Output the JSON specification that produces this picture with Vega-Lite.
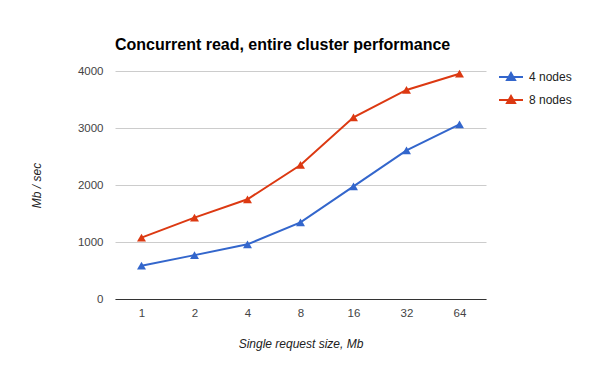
{
  "$schema": "https://vega.github.io/schema/vega-lite/v6.json",
  "width": 371,
  "height": 228,
  "autosize": "none",
  "padding": {"left": 115, "top": 71, "right": 114, "bottom": 72},
  "background": "white",
  "title": {
    "text": "Concurrent read, entire cluster performance",
    "anchor": "start",
    "frame": "group",
    "font": "Liberation Sans",
    "fontSize": 16,
    "fontWeight": "bold",
    "color": "#000000",
    "baseline": "alphabetic",
    "offset": -1
  },
  "data": {
    "values": [
      {"size": "1", "series": "4 nodes", "value": 584},
      {"size": "2", "series": "4 nodes", "value": 770},
      {"size": "4", "series": "4 nodes", "value": 959},
      {"size": "8", "series": "4 nodes", "value": 1345},
      {"size": "16", "series": "4 nodes", "value": 1977},
      {"size": "32", "series": "4 nodes", "value": 2608},
      {"size": "64", "series": "4 nodes", "value": 3064},
      {"size": "1", "series": "8 nodes", "value": 1076},
      {"size": "2", "series": "8 nodes", "value": 1427},
      {"size": "4", "series": "8 nodes", "value": 1749},
      {"size": "8", "series": "8 nodes", "value": 2351},
      {"size": "16", "series": "8 nodes", "value": 3187},
      {"size": "32", "series": "8 nodes", "value": 3667},
      {"size": "64", "series": "8 nodes", "value": 3953}
    ]
  },
  "encoding": {
    "x": {
      "field": "size",
      "type": "ordinal",
      "sort": ["1", "2", "4", "8", "16", "32", "64"],
      "scale": {"paddingInner": 0, "paddingOuter": 0.5},
      "axis": {
        "title": "Single request size, Mb",
        "titleFont": "Liberation Sans",
        "titleFontSize": 12,
        "titleFontStyle": "italic",
        "titleFontWeight": "normal",
        "titleColor": "#222222",
        "titlePadding": 20,
        "labelFont": "Liberation Sans",
        "labelFontSize": 11.5,
        "labelColor": "#444444",
        "labelAngle": 0,
        "labelPadding": 8,
        "ticks": false,
        "domain": true,
        "domainColor": "#333333",
        "domainWidth": 1,
        "grid": false
      }
    },
    "y": {
      "field": "value",
      "type": "quantitative",
      "scale": {"domain": [0, 4000], "nice": false},
      "axis": {
        "title": "Mb / sec",
        "titleFont": "Liberation Sans",
        "titleFontSize": 12,
        "titleFontStyle": "italic",
        "titleFontWeight": "normal",
        "titleColor": "#222222",
        "titlePadding": 34,
        "labelFont": "Liberation Sans",
        "labelFontSize": 11.5,
        "labelColor": "#444444",
        "labelPadding": 12,
        "format": "d",
        "values": [0, 1000, 2000, 3000, 4000],
        "ticks": false,
        "domain": false,
        "grid": true,
        "gridColor": "#cccccc",
        "gridWidth": 1
      }
    },
    "color": {
      "field": "series",
      "type": "nominal",
      "scale": {"domain": ["4 nodes", "8 nodes"], "range": ["#3366cc", "#dc3912"]},
      "legend": {
        "title": null,
        "orient": "none",
        "legendX": 389,
        "legendY": -1,
        "padding": 0,
        "symbolType": "M-2,0H2M-0.67,0.5L0,-0.67L0.67,0.5Z",
        "symbolSize": 144,
        "symbolStrokeWidth": 2,
        "labelOffset": 11,
        "labelFont": "Liberation Sans",
        "labelFontSize": 12,
        "labelColor": "#222222",
        "rowPadding": 7,
        "encode": {
          "symbols": {
            "update": {
              "fill": {"scale": "color", "field": "value"},
              "stroke": {"scale": "color", "field": "value"},
              "opacity": {"value": 1}
            }
          }
        }
      }
    }
  },
  "layer": [
    {
      "mark": {"type": "line", "strokeWidth": 2}
    },
    {
      "mark": {"type": "point", "shape": "triangle-up", "filled": true, "size": 80, "opacity": 1}
    }
  ],
  "config": {
    "view": {"stroke": null}
  }
}
